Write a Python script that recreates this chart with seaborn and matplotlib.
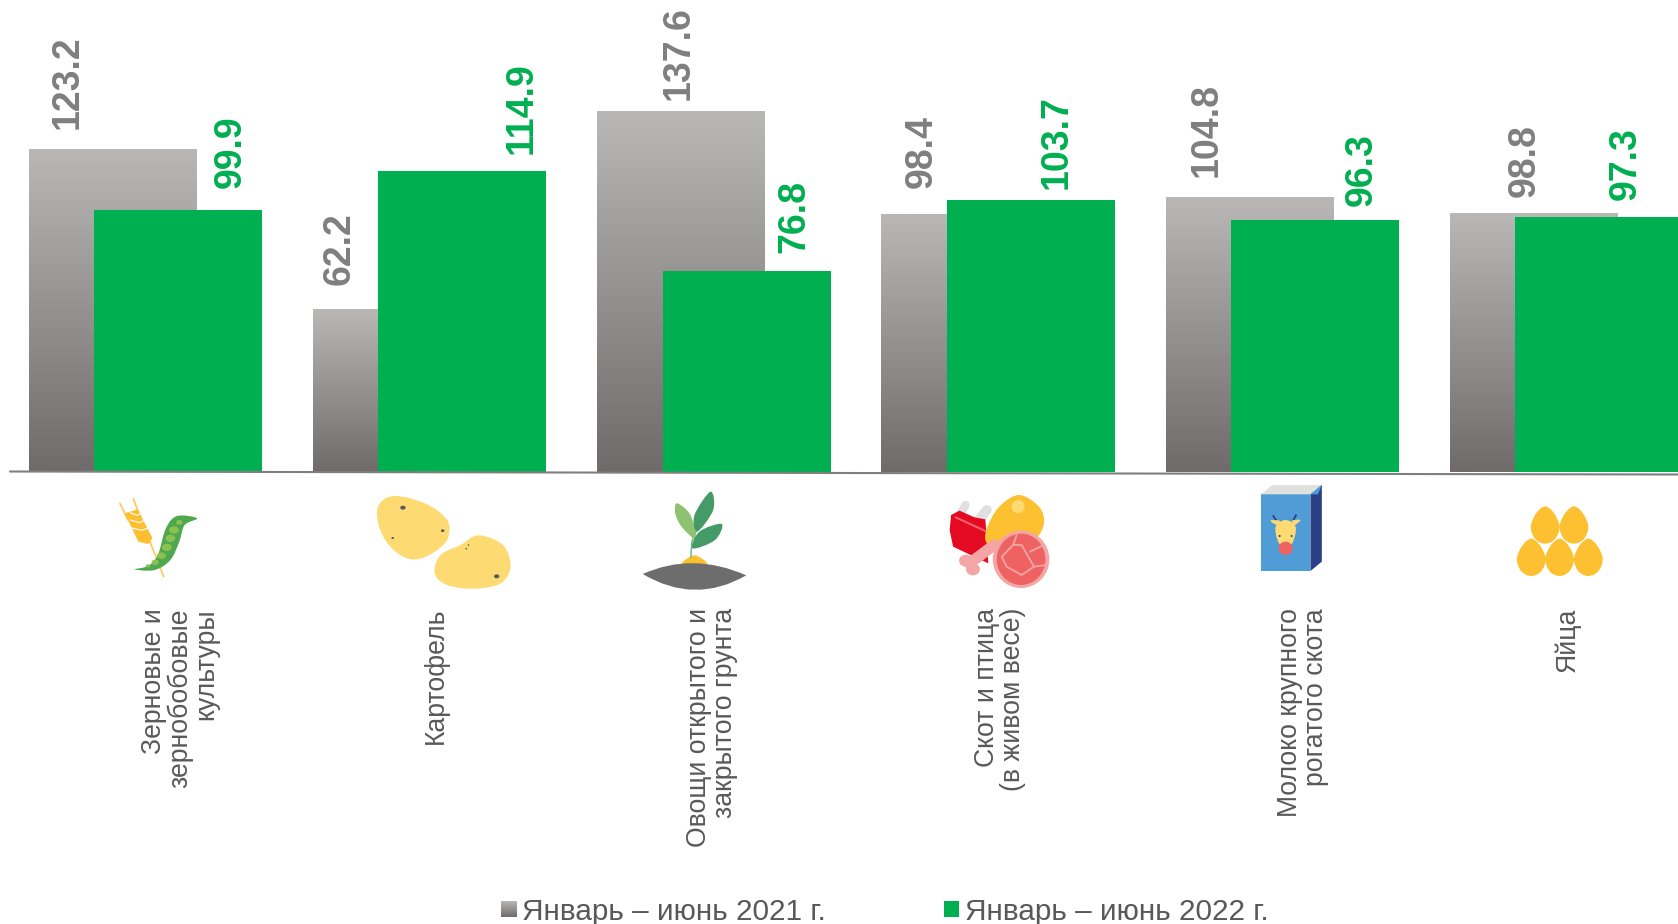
import numpy as np
import pandas as pd
import matplotlib
matplotlib.use("Agg")
import matplotlib.pyplot as plt
import seaborn as sns
from matplotlib.colors import LinearSegmentedColormap
from matplotlib.path import Path
from matplotlib.patches import PathPatch, Ellipse, Polygon

categories = ["Зерновые и\nзернобобовые\nкультуры", "Картофель", "Овощи открытого и\nзакрытого грунта",
              "Скот и птица\n(в живом весе)", "Молоко крупного\nрогатого скота", "Яйца"]
values_2021 = [123.2, 62.2, 137.6, 98.4, 104.8, 98.8]
values_2022 = [99.9, 114.9, 76.8, 103.7, 96.3, 97.3]
legend_labels = ["Январь – июнь 2021 г.", "Январь – июнь 2022 г."]

GRAY_TOP, GRAY_BOTTOM = "#B9B8B6", "#6F6B6A"
GREEN = "#00AF50"
LABEL_GRAY = "#7F7F7F"
TEXT_GRAY = "#595959"
W, H = 1678, 924

sns.set_theme(style="white")
plt.rcParams["font.family"] = ["Liberation Sans", "DejaVu Sans"]

fig = plt.figure(figsize=(W / 100, H / 100), dpi=100)
ax = fig.add_axes([0, 0, 1, 1])

df = pd.DataFrame({"group": range(len(categories)), "y21": values_2021, "y22": values_2022})
sns.barplot(x=df["group"] - 0.115, y=df["y21"], native_scale=True, width=0.591, color=GRAY_BOTTOM,
            saturation=1, linewidth=0, edgecolor="none", ax=ax)
sns.barplot(x=df["group"] + 0.115, y=df["y22"], native_scale=True, width=0.591, color=GREEN,
            saturation=1, linewidth=0, edgecolor="none", ax=ax)
gray_bars, green_bars = ax.containers[0], ax.containers[1]

# gray bars have a vertical gradient, each one top to bottom
grad = np.linspace(0, 1, 256).reshape(-1, 1)
cmap = LinearSegmentedColormap.from_list("bar", [GRAY_TOP, GRAY_BOTTOM])
for b in gray_bars:
    ax.imshow(grad, cmap=cmap, aspect="auto", zorder=1.5,
              extent=(b.get_x(), b.get_x() + b.get_width(), 0, b.get_height()))
for b in green_bars:
    b.set_zorder(3)

# map the axes so group spacing = 284.2 px and 1 unit = 2.619 px
ax.set_xlim((0 - 145.5) / 284.2, (W - 145.5) / 284.2)
ax.set_ylim((472 - H) / 2.619, 472 / 2.619)
ax.set_axis_off()

gray_dx = [-45, -57, -3, -44, -43, -9]
gray_gap = [20, 24, 12, 26, 21, 16]
green_dx = [53, 59, 48, 26, 47, 27]
green_gap = [22, 17, 18, 11, 14, 17]
for bars, dxs, gaps, col in [(gray_bars, gray_dx, gray_gap, LABEL_GRAY), (green_bars, green_dx, green_gap, GREEN)]:
    for b, dx, gap in zip(bars, dxs, gaps):
        ax.annotate(f"{b.get_height():.1f}", xy=(b.get_x() + b.get_width() / 2, b.get_height()),
                    xytext=(dx, gap), textcoords="offset pixels", rotation=90, ha="center", va="bottom",
                    fontsize=27, fontweight="bold", color=col, zorder=5)

# overlay in pixel coordinates for baseline, category text, icons and legend
px = fig.add_axes([0, 0, 1, 1])
px.patch.set_alpha(0)
px.set_axis_off()

px.plot([10, W], [471.5, 474.5], color="#7F7F7F", lw=1.5, zorder=1)

cat_x = [180, 436, 712, 1000, 1303, 1567]
for name, x in zip(categories, cat_x):
    px.text(x, 608, name, rotation=90, ha="center", va="top", multialignment="right",
            fontsize=19.2, color=TEXT_GRAY, linespacing=1.0)

# legend
px.imshow(grad, cmap=cmap, aspect="auto", extent=(501, 517, 917, 901), origin="upper", zorder=2)
px.set_xlim(0, W)
px.set_ylim(H, 0)
px.add_patch(Polygon([(944, 901), (959, 901), (959, 917), (944, 917)], color=GREEN, lw=0))
px.text(522, 912, legend_labels[0], va="center", ha="left", fontsize=21.4, color=TEXT_GRAY)
px.text(965, 912, legend_labels[1], va="center", ha="left", fontsize=21.4, color=TEXT_GRAY)


def blob(pts, color, tf, z=3):
    # closed smooth shape through the points (catmull-rom to bezier)
    pts = np.array([tf(*p) for p in pts], dtype=float)
    n = len(pts)
    verts = [pts[0]]
    codes = [Path.MOVETO]
    for i in range(n):
        p0, p1, p2, p3 = pts[i - 1], pts[i], pts[(i + 1) % n], pts[(i + 2) % n]
        verts += [p1 + (p2 - p0) / 6, p2 - (p3 - p1) / 6, p2]
        codes += [Path.CURVE4] * 3
    px.add_patch(PathPatch(Path(verts, codes), facecolor=color, edgecolor="none", zorder=z))


def poly(pts, color, tf, z=3):
    px.add_patch(Polygon([tf(*p) for p in pts], closed=True, facecolor=color, edgecolor="none", zorder=z))


def line(pts, color, lw, tf, z=3):
    xy = np.array([tf(*p) for p in pts])
    px.plot(xy[:, 0], xy[:, 1], color=color, lw=lw, zorder=z, solid_capstyle="round")


def oval(x, y, rx, ry, color, tf, s, z=4):
    px.add_patch(Ellipse(tf(x, y), 2 * rx / s, 2 * ry / SY, facecolor=color, edgecolor="none", zorder=z))


SY = 3.0
s1 = 2.24
t1 = lambda x, y: (90 + x / s1, 470 + y / SY)
s2 = 2.015
t2 = lambda x, y: (900 + x / s2, 470 + y / SY)

YEL, PALE, DARKG = "#FDBF2F", "#FEDB72", "#459B68"

# wheat and pea pod
line([(97, 87), (165, 320)], "#FDCB5E", 1.3, t1)
line([(67, 100), (85, 150)], "#FDCB5E", 1.3, t1)
poly([(78, 130), (107, 118), (140, 205), (130, 222), (108, 215)], YEL, t1)
for yy in [150, 172, 195]:
    line([(90, yy - 22), (105 + (yy - 150) * 0.25, yy - 14), (118 + (yy - 150) * 0.3, yy - 22)], "white", 0.8, t1, z=4)
blob([(100, 298), (130, 288), (152, 255), (170, 175), (195, 138), (240, 145), (212, 165), (200, 215),
      (180, 270), (145, 300)], "#4FA84E", t1)
for x, y, r in [(200, 157, 7), (188, 180, 11), (180, 205, 11), (172, 232, 11), (160, 257, 10), (146, 277, 8), (130, 288, 5)]:
    oval(x, y, r, r, "#8CC152", t1, s1)

# potatoes
blob([(680, 78), (750, 100), (800, 150), (800, 210), (760, 255), (720, 268), (680, 240), (650, 180), (645, 110)], PALE, t1)
blob([(870, 196), (925, 225), (942, 290), (920, 340), (860, 356), (800, 345), (772, 310), (785, 255), (830, 225)], PALE, t1)
for x, y, r in [(701, 113, 6), (790, 182, 4), (678, 204, 3), (911, 319, 6), (848, 225, 2), (843, 236, 2)]:
    oval(x, y, r, r, "#5A5A5A", t1, s1)

# sprout
blob([(1325, 285), (1354, 256), (1383, 285)], YEL, t1, z=3)
line([(1346, 262), (1348, 215), (1362, 170)], "#6FAE8C", 1, t1)
blob([(1315, 100), (1345, 135), (1356, 205), (1325, 170), (1311, 130)], "#8CC270", t1)
blob([(1390, 65), (1396, 120), (1360, 185), (1354, 135)], DARKG, t1)
blob([(1415, 162), (1400, 210), (1350, 235), (1365, 185)], DARKG, t1)
a, b = t1(1238, 312), t1(1470, 316)
soil = Path([a, t1(1350, 245), b, t1(1355, 405), a], [Path.MOVETO, Path.CURVE3, Path.CURVE3, Path.CURVE3, Path.CURVE3])
px.add_patch(PathPatch(soil, facecolor="#6D6D6D", edgecolor="none", zorder=4))

# meat and poultry
line([(132, 105), (115, 150)], "#E0E0E0", 6, t2)
line([(175, 120), (150, 165)], "#E0E0E0", 7, t2)
poly([(103, 135), (120, 122), (135, 132), (150, 142), (172, 148), (178, 280), (107, 230), (100, 180)], "#E30A22", t2, z=4)
line([(112, 142), (175, 185)], "#F2606C", 1.5, t2, z=5)
blob([(240, 75), (280, 110), (290, 160), (270, 210), (210, 250), (175, 220), (175, 175), (200, 110)], "#FDC030", t2, z=6)
oval(238, 110, 13, 20, PALE, t2, s2, z=7)
line([(190, 225), (140, 280)], "#F4A6A6", 8, t2, z=6)
oval(133, 272, 14, 18, "#F4A6A6", t2, s2, z=6)
oval(147, 298, 14, 18, "#F4A6A6", t2, s2, z=6)
oval(244, 268, 57, 86, "#F4A6A6", t2, s2, z=7)
oval(244, 268, 49, 77, "#EF6262", t2, s2, z=8)
line([(205, 260), (228, 225), (245, 225), (270, 290), (245, 315), (215, 290), (205, 260)], "#F4A6A6", 1.3, t2, z=9)
line([(228, 225), (235, 195)], "#F4A6A6", 1.3, t2, z=9)
line([(262, 245), (290, 225)], "#F4A6A6", 1.3, t2, z=9)
line([(270, 290), (295, 285)], "#F4A6A6", 1.3, t2, z=9)

# milk carton
poly([(728, 73), (827, 73), (827, 303), (728, 303)], "#4F9CD6", t2)
poly([(728, 73), (750, 45), (850, 45), (827, 73)], "#E0E0DE", t2)
poly([(827, 73), (850, 45), (850, 275), (827, 303)], "#2B3F87", t2)
poly([(827, 73), (850, 45), (842, 73)], "#4F9CD6", t2, z=4)
line([(765, 165), (752, 138)], "#2B3F87", 1.3, t2)
line([(788, 165), (798, 135)], "#2B3F87", 1.3, t2)
blob([(760, 165), (746, 152), (765, 152)], PALE, t2, z=4)
blob([(795, 165), (807, 150), (790, 152)], PALE, t2, z=4)
blob([(777, 150), (797, 170), (792, 215), (777, 235), (762, 215), (757, 170)], PALE, t2, z=4)
oval(777, 235, 14, 20, "#EE6262", t2, s2, z=5)
oval(765, 198, 2, 3, "#2B3F87", t2, s2, z=5)
oval(789, 198, 2, 3, "#2B3F87", t2, s2, z=5)

# eggs
egg = [(0, -56), (18, -35), (29, 5), (20, 42), (0, 56), (-20, 42), (-29, 5), (-18, -35)]
for cx, cy in [(1300, 165), (1358, 165), (1272, 262), (1329, 262), (1387, 262)]:
    blob([(cx + dx, cy + dy) for dx, dy in egg], "#FDC030", t2)

fig.savefig("out.png", dpi=100)
